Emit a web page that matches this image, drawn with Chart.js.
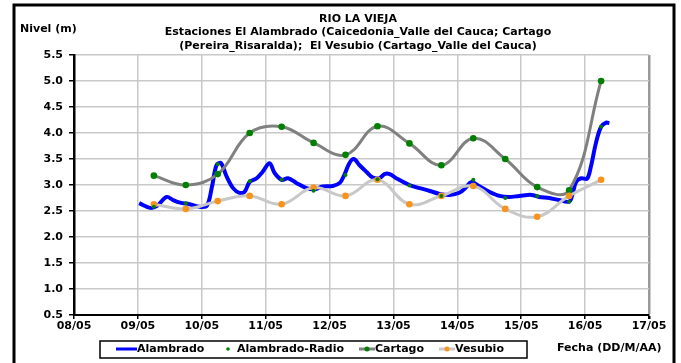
<!DOCTYPE html>
<html>
<head>
<meta charset="utf-8">
<script src="https://cdn.jsdelivr.net/npm/chart.js@4"></script>
<style>
  html, body { margin: 0; padding: 0; background: #fff; }
  #wrap { width: 681px; height: 363px; }
</style>
</head>
<body>
<div id="wrap"><canvas id="nivel"></canvas></div>
<script>
// DATA (x = days since 08/05)
const dateLabels = ["08/05", "09/05", "10/05", "11/05", "12/05", "13/05", "14/05", "15/05", "16/05", "17/05"];

const alambradoDays = [
  1.02, 1.19, 1.30, 1.45, 1.55, 1.66, 1.81, 1.97, 2.08, 2.16, 2.23, 2.30, 2.39, 2.49, 2.59, 2.67,
  2.75, 2.86, 2.95, 3.06, 3.14, 3.25, 3.35, 3.48, 3.64, 3.77, 3.89, 4.05, 4.16, 4.23, 4.31, 4.38,
  4.47, 4.58, 4.67, 4.78, 4.86, 4.94, 5.06, 5.25, 5.41, 5.56, 5.72, 5.88, 6.03, 6.14, 6.22, 6.34,
  6.50, 6.66, 6.81, 6.97, 7.16, 7.28, 7.44, 7.59, 7.75, 7.80, 7.86, 7.94, 8.03, 8.09, 8.17, 8.25,
  8.33, 8.38,
];
const alambradoVals = [
  2.65, 2.56, 2.60, 2.77, 2.71, 2.66, 2.63, 2.58, 2.60, 2.97, 3.38, 3.42, 3.16, 2.94, 2.85, 2.87,
  3.06, 3.13, 3.25, 3.42, 3.23, 3.10, 3.13, 3.04, 2.94, 2.92, 2.97, 2.98, 3.04, 3.19, 3.42, 3.50,
  3.38, 3.25, 3.15, 3.13, 3.21, 3.21, 3.12, 3.00, 2.94, 2.89, 2.83, 2.81, 2.85, 2.96, 3.06, 2.98,
  2.87, 2.79, 2.77, 2.79, 2.81, 2.77, 2.75, 2.71, 2.68, 2.81, 3.06, 3.13, 3.12, 3.35, 3.81, 4.12,
  4.20, 4.19,
];

// readings every 12 h, 09/05 06:00 .. 16/05 06:00
const stationDays = [1.25, 1.75, 2.25, 2.75, 3.25, 3.75, 4.25, 4.75, 5.25, 5.75, 6.25, 6.75, 7.25, 7.75, 8.25];
const radioVals   = [2.58, 2.65, 3.40, 3.07, 3.10, 2.89, 3.19, 3.11, 2.99, 2.79, 3.10, 2.75, 2.79, 2.68, 4.12];
const cartagoVals = [3.18, 3.00, 3.21, 4.00, 4.12, 3.81, 3.58, 4.13, 3.80, 3.38, 3.90, 3.50, 2.96, 2.90, 5.00];
const vesubioVals = [2.63, 2.54, 2.69, 2.79, 2.63, 2.95, 2.79, 3.10, 2.63, 2.79, 2.98, 2.54, 2.39, 2.79, 3.10];

const titleLines = [
  "RIO LA VIEJA",
  "Estaciones El Alambrado (Caicedonia_Valle del Cauca; Cartago",
  "(Pereira_Risaralda);  El Vesubio (Cartago_Valle del Cauca)",
];

function pts(xs, ys) {
  return xs.map((x, i) => ({ x: x, y: ys[i] }));
}

const FAMILY = "'DejaVu Sans', Verdana, sans-serif";
const BOLD = "bold 11px " + FAMILY;

// frame, title, axis labels, legend
const decorations = {
  id: "decorations",
  afterDraw(chart) {
    const ctx = chart.ctx;
    ctx.save();
    // outer frame
    ctx.strokeStyle = "#000";
    ctx.lineWidth = 3;
    ctx.beginPath();
    ctx.moveTo(14, 363);
    ctx.lineTo(14, 5);
    ctx.lineTo(674, 5);
    ctx.lineTo(674, 363);
    ctx.stroke();

    ctx.fillStyle = "#000";
    ctx.font = BOLD;
    ctx.textBaseline = "middle";
    ctx.textAlign = "center";
    titleLines.forEach((t, i) => ctx.fillText(t, 358, 19 + i * 13.5));

    ctx.textAlign = "left";
    ctx.fillText("Nivel (m)", 20, 29);
    ctx.fillText("Fecha (DD/M/AA)", 557, 348);

    // legend box
    ctx.lineWidth = 1.5;
    ctx.strokeRect(100, 341, 427, 17);
    const y = 349;
    ctx.lineCap = "butt";
    // Alambrado
    ctx.strokeStyle = "#0000ff";
    ctx.lineWidth = 3;
    ctx.beginPath(); ctx.moveTo(116, y); ctx.lineTo(137, y); ctx.stroke();
    ctx.fillText("Alambrado", 137, y);
    // Alambrado-Radio
    ctx.fillStyle = "#008000";
    ctx.beginPath(); ctx.arc(228, y, 1.8, 0, Math.PI * 2); ctx.fill();
    ctx.fillStyle = "#000";
    ctx.fillText("Alambrado-Radio", 237, y);
    // Cartago
    ctx.strokeStyle = "#808080";
    ctx.beginPath(); ctx.moveTo(359, y); ctx.lineTo(375, y); ctx.stroke();
    ctx.fillStyle = "#008000";
    ctx.beginPath(); ctx.arc(367, y, 2.5, 0, Math.PI * 2); ctx.fill();
    ctx.fillStyle = "#000";
    ctx.fillText("Cartago", 375, y);
    // Vesubio
    ctx.strokeStyle = "#c8c8c8";
    ctx.beginPath(); ctx.moveTo(439, y); ctx.lineTo(455, y); ctx.stroke();
    ctx.fillStyle = "#f7941d";
    ctx.beginPath(); ctx.arc(447, y, 2.5, 0, Math.PI * 2); ctx.fill();
    ctx.fillStyle = "#000";
    ctx.fillText("Vesubio", 455, y);
    ctx.restore();
  },
};

const ctx = document.getElementById("nivel").getContext("2d");
new Chart(ctx, {
  type: "line",
  data: {
    datasets: [
      {
        label: "Alambrado-Radio",
        data: pts(stationDays, radioVals),
        showLine: false,
        pointRadius: 2,
        pointBackgroundColor: "#008000",
        pointBorderWidth: 0,
        order: 0,
      },
      {
        label: "Vesubio",
        data: pts(stationDays, vesubioVals),
        borderColor: "#c8c8c8",
        borderWidth: 3,
        tension: 0.4,
        pointRadius: 3.3,
        pointBackgroundColor: "#f7941d",
        pointBorderWidth: 0,
        order: 1,
      },
      {
        label: "Cartago",
        data: pts(stationDays, cartagoVals),
        borderColor: "#808080",
        borderWidth: 3,
        tension: 0.4,
        pointRadius: 3.3,
        pointBackgroundColor: "#008000",
        pointBorderWidth: 0,
        order: 2,
      },
      {
        label: "Alambrado",
        data: pts(alambradoDays, alambradoVals),
        borderColor: "#0000ff",
        borderWidth: 4,
        tension: 0.35,
        pointRadius: 0,
        order: 3,
      },
    ],
  },
  options: {
    responsive: true,
    maintainAspectRatio: false,
    animation: false,
    layout: { padding: { left: 13, top: 55, right: 32, bottom: 0 } },
    plugins: {
      legend: { display: false },
      title: { display: false },
      tooltip: { enabled: false },
    },
    scales: {
      x: {
        type: "linear",
        min: 0,
        max: 9,
        afterFit(scale) { scale.height = 48; },
        ticks: {
          stepSize: 1,
          autoSkip: false,
          maxRotation: 0,
          color: "#000",
          font: { family: FAMILY, size: 11, weight: "bold" },
          padding: 1,
          callback: (v) => dateLabels[v],
        },
        grid: {
          color: (c) => (c.index === 9 ? "#999" : "#c8c8c8"),
          lineWidth: (c) => (c.index === 9 ? 2.5 : 1.5),
          tickColor: "#000",
          tickLength: 4,
        },
        border: { color: "#000", width: 2 },
      },
      y: {
        min: 0.5,
        max: 5.5,
        afterFit(scale) { scale.width = 61; },
        ticks: {
          stepSize: 0.5,
          color: "#000",
          font: { family: FAMILY, size: 11, weight: "bold" },
          padding: 6,
          callback: (v) => v.toFixed(1),
        },
        grid: {
          color: "#c8c8c8",
          lineWidth: 1.5,
          tickColor: "#000",
          tickLength: 5,
        },
        border: { color: "#000", width: 2.5 },
      },
    },
  },
  plugins: [decorations],
});
</script>
</body>
</html>
